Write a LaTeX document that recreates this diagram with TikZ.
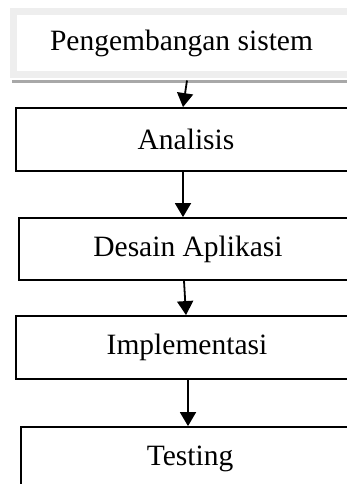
\documentclass[tikz,border=0pt]{standalone}
\usepackage{fontspec}
\setmainfont{Liberation Serif}
\usepackage{xcolor}
\usepackage{tikz}
\usetikzlibrary{arrows.meta,positioning}
\definecolor{FrameGray}{HTML}{EEEEEE}
\definecolor{ShadeGray}{HTML}{A8A8A8}

\begin{document}
\begin{tikzpicture}[x=1pt,y=-1pt,
    bx/.style={rectangle,draw=black,line width=1.8pt,fill=white,
               minimum width=#1,minimum height=63pt,inner sep=0pt,
               text centered,font=\fontsize{29.5}{34}\selectfont},
    ar/.style={-{Triangle[length=14pt,width=16pt]},line width=1.8pt,black}]
\useasboundingbox (0,0) rectangle (347,484);
\clip (0,0) rectangle (347,484);
\node[bx=337pt,draw=FrameGray,line width=7pt,minimum height=62.5pt] (peng) at (181.5,43.25) {Pengembangan sistem};
\draw[ShadeGray,line width=3pt] (12,81.5) -- (360,81.5);
\node[bx=340pt] (anl) at (186,139.5) {Analisis};
\node[bx=338pt,minimum height=62pt] (dsn) at (188,249) {Desain Aplikasi};
\node[bx=342pt] (imp) at (187,347.5) {Implementasi};
\node[bx=338pt] (tst) at (190,458.5) {Testing};
\draw[ar]([xshift=5.5pt,yshift=-2.5pt]peng.south)--([xshift=-3pt]anl.north);
\draw[ar]([xshift=-3pt]anl.south)--([xshift=-5pt]dsn.north);
\draw[ar]([xshift=-4pt]dsn.south)--([xshift=-1pt]imp.north);
\draw[ar]([xshift=1pt]imp.south)--([xshift=-2pt]tst.north);
\end{tikzpicture}
\end{document}
